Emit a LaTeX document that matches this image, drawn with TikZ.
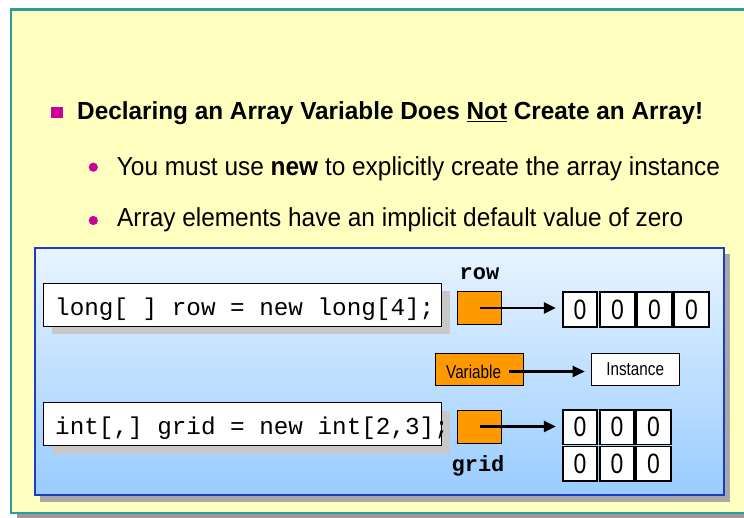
\documentclass[tikz,border=0pt]{standalone}
\usepackage{fontspec}
\usepackage{graphicx}
\setmainfont{Liberation Sans}
\newfontfamily\narrowfont[FakeStretch=0.82]{Liberation Sans}
\newfontfamily\codefont{Liberation Mono}
\usetikzlibrary{arrows.meta,calc,shadows}
\definecolor{bgyellow}{HTML}{FFFFC0}
\definecolor{tealc}{HTML}{2E9A9A}
\definecolor{outshadow}{HTML}{9A9A9A}
\definecolor{blueborder}{HTML}{1A3CC8}
\definecolor{bluetop}{HTML}{E8F4FF}
\definecolor{bluebot}{HTML}{99CCFF}
\definecolor{blueshadow}{HTML}{A8A8A8}
\definecolor{codeshadow}{HTML}{C8C8C8}
\definecolor{orangec}{HTML}{FF9900}
\definecolor{magentac}{HTML}{CC0099}
\begin{document}
\begin{tikzpicture}[x=1pt,y=-1pt,
  codebox/.style={draw=black, line width=1.6pt, fill=white, minimum width=398pt, minimum height=43pt, inner sep=0pt,
    drop shadow={shadow xshift=8pt, shadow yshift=-8pt, fill=codeshadow, opacity=1}},
  codetext/.style={inner sep=0pt, font=\codefont\fontsize{24.3}{28}\selectfont},
  varbox/.style={draw=black, line width=1pt, fill=orangec, minimum width=44pt, minimum height=33pt, inner sep=0pt},
  lbl/.style={inner sep=0pt, font=\codefont\bfseries\fontsize{22}{26}\selectfont},
  cell/.style={draw=black, line width=1.8pt, fill=white, minimum width=34.5pt, minimum height=34.5pt, inner sep=0pt,
    font=\narrowfont\fontsize{28}{32}\selectfont},
  ptr/.style={line width=2.4pt, -{Triangle[length=12pt,width=11pt]}},
  legtext/.style={inner sep=0pt, font=\narrowfont\fontsize{18.6}{22}\selectfont},
  txt/.style={inner sep=0pt, anchor=base west}
]
\useasboundingbox (0,0) rectangle (744,518);
\clip (0,0) rectangle (744,518);
\fill[white] (0,0) rectangle (744,518);
% outer slide panel
\fill[outshadow] (17,16) rectangle (770,518);
\fill[bgyellow] (11,9.5) rectangle (760,513);
\draw[tealc, line width=2.2pt] (11,9.5) rectangle (760,513);

% title and bullets
\fill[magentac] (51,106.7) rectangle (62.7,118.3);
\node[txt] (title) at (77,119.3) {\resizebox{626pt}{\height}{\bfseries\fontsize{24.7}{30}\selectfont Declaring an Array Variable Does \underline{Not} Create an Array!}};
\fill[magentac] (93.3,167.2) circle (4.6);
\node[txt] (sub1) at (116.7,175.7) {\resizebox{603pt}{\height}{\fontsize{26}{30}\selectfont You must use \textbf{new} to explicitly create the array instance}};
\fill[magentac] (93.3,220.5) circle (4.6);
\node[txt] (sub2) at (117,226.7) {\resizebox{566pt}{\height}{\fontsize{26}{30}\selectfont Array elements have an implicit default value of zero}};

% blue panel
\fill[blueshadow] (40,254) rectangle (729.5,501.5);
\shade[top color=bluetop, bottom color=bluebot] (35,248) rectangle (724,495);
\draw[blueborder, line width=1.6pt] (35,248) rectangle (724,495);

% code boxes
\node[codebox] (rowdecl) at (242.5,305) {};
\node[codetext, anchor=base west] (rowcode) at (55,315.5) {long[ ] row = new long[4];};
\node[codebox] (griddecl) at (242.5,424) {};
\node[codetext, anchor=base west] (gridcode) at (55,434) {int[,] grid = new int[2,3];};

% variables
\node[lbl, anchor=base] (rowlbl) at (479.5,279.3) {row};
\node[varbox] (rowvar) at (479.5,308) {};
\node[varbox] (gridvar) at (479.5,426.5) {};
\node[lbl, anchor=base] (gridlbl) at (478,471.7) {grid};

% row array
\node[cell] (r1) at (580,309.5) {0};
\node[cell] (r2) at (617.5,309.5) {0};
\node[cell] (r3) at (654.5,309.5) {0};
\node[cell] (r4) at (691.5,309.5) {0};

% grid array
\node[cell] (g11) at (580,427.2) {0};
\node[cell] (g12) at (617,427.2) {0};
\node[cell] (g13) at (653.6,427.2) {0};
\node[cell] (g21) at (580,463.8) {0};
\node[cell] (g22) at (617,463.8) {0};
\node[cell] (g23) at (653.6,463.8) {0};

\draw[ptr, shorten >=6pt] (rowvar.center) -- (rowvar.center -| r1.west);
\draw[ptr, shorten >=6pt] (gridvar.center) -- (gridvar.center -| g11.west);

% legend
\node[varbox, minimum width=88pt, minimum height=32pt] (legvar) at (479.2,369.5) {};
\node[legtext, anchor=base west] (legvartext) at (446,378.3) {Variable};
\node[draw=black, line width=1pt, fill=white, minimum width=88pt, minimum height=32pt, inner sep=0pt,
  font=\narrowfont\fontsize{18.6}{22}\selectfont] (leginst) at (635.2,369.5) {Instance};
\coordinate (legstart) at (509,371.5);
\draw[ptr, shorten >=6pt] (legstart) -- (legstart -| leginst.west);
\end{tikzpicture}
\end{document}
